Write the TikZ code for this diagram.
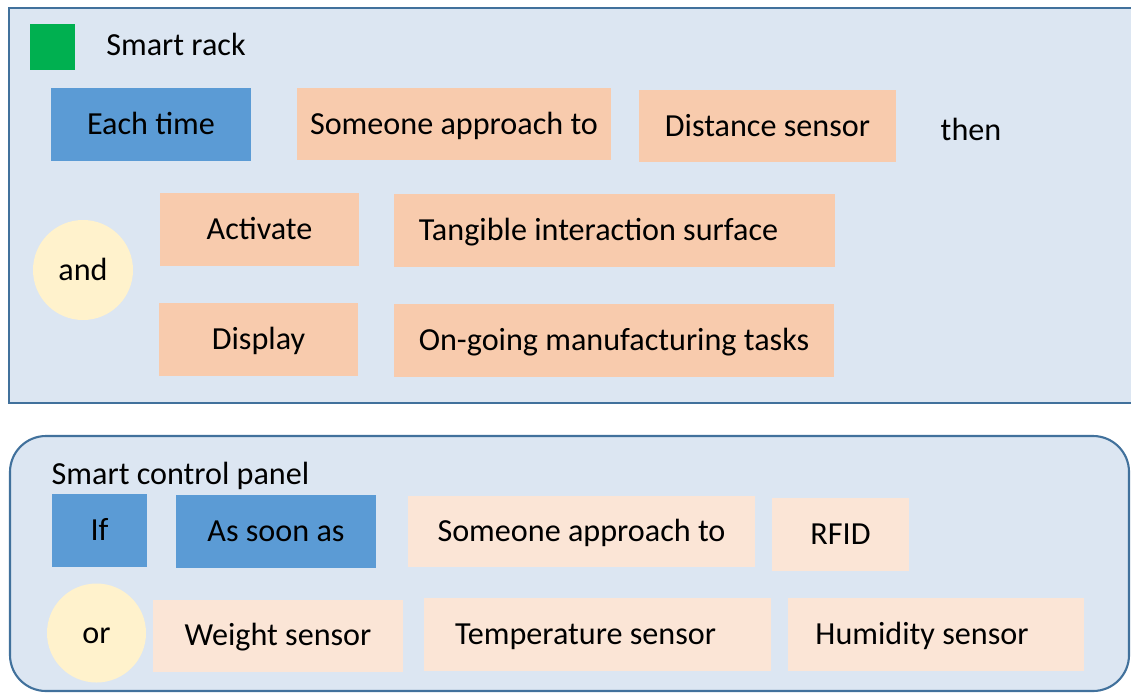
\documentclass[tikz,border=0pt]{standalone}
\usepackage{fontspec}
\setmainfont{Carlito}
\definecolor{panelfill}{HTML}{DCE6F2}
\definecolor{paneldraw}{HTML}{41719C}
\definecolor{trigblue}{HTML}{5B9BD5}
\definecolor{peach}{HTML}{F8CBAD}
\definecolor{peachlt}{HTML}{FBE5D6}
\definecolor{joinyellow}{HTML}{FFF2CC}
\definecolor{rackgreen}{HTML}{00B050}

\begin{document}
\begin{tikzpicture}[x=0.02cm,y=-0.02cm,font=\fontsize{18.3}{22}\selectfont,
    panel/.style={draw=paneldraw,fill=panelfill,line width=1.2pt},
    box/.style 2 args={rectangle,inner sep=0pt,minimum width=#1*0.02cm,
        minimum height=#2*0.02cm,text height=1.18em,text depth=0.02em},
    trig/.style 2 args={box={#1}{#2},fill=trigblue},
    item/.style 2 args={box={#1}{#2},fill=peach},
    itemlt/.style 2 args={box={#1}{#2},fill=peachlt},
    joiner/.style={circle,fill=joinyellow,inner sep=0pt,minimum size=100*0.02cm,
        text height=1.18em,text depth=0.02em},
    word/.style={inner sep=0pt,text height=1.18em,text depth=0.02em}]
    \clip (0,0) rectangle (1131,693);

    % Smart rack
    \draw[panel] (9,8) rectangle (1160,403);
    \node[box={45}{46},fill=rackgreen] (sq) at (52.5,47) {};
    \node[word] (rack) at (176,45) {Smart rack};
    \node[trig={200}{73}] (each) at (151,124.5) {Each time};
    \node[item={314}{72}] (appr1) at (454,124) {Someone approach to};
    \node[item={257}{72}] (dist) at (767.5,126) {Distance sensor};
    \node[word] (then) at (971,130) {then};
    \node[joiner] (and) at (83,270) {and};
    \node[item={199}{73}] (act) at (259.5,229.5) {Activate};
    \node[item={441}{73}] (tang) at (614.5,230.5) {Tangible interaction surface\hspace*{0.64cm}};
    \node[item={199}{73}] (disp) at (258.5,339.5) {Display};
    \node[item={440}{73}] (ongo) at (614,340.5) {On-going manufacturing tasks};

    % Smart control panel
    \draw[panel,rounded corners=0.72cm] (10,436) rectangle (1129,691);
    \node[word] (ctrl) at (180.5,474) {Smart control panel};
    \node[trig={95}{73}] (if) at (99.5,530.5) {If};
    \node[trig={200}{73}] (soon) at (276,531.5) {As soon as};
    \node[itemlt={347}{71}] (appr2) at (581.5,531.5) {Someone approach to};
    \node[itemlt={137}{73}] (rfid) at (840.5,534) {RFID};
    \node[joiner,minimum size=99*0.02cm] (or) at (96.5,633) {or};
    \node[itemlt={250}{72}] (weight) at (278,635.5) {Weight sensor};
    \node[itemlt={347}{73}] (temp) at (597.5,634.5) {Temperature sensor\hspace*{0.48cm}};
    \node[itemlt={296}{73}] (hum) at (936,634.5) {Humidity sensor\hspace*{0.56cm}};
\end{tikzpicture}
\end{document}
